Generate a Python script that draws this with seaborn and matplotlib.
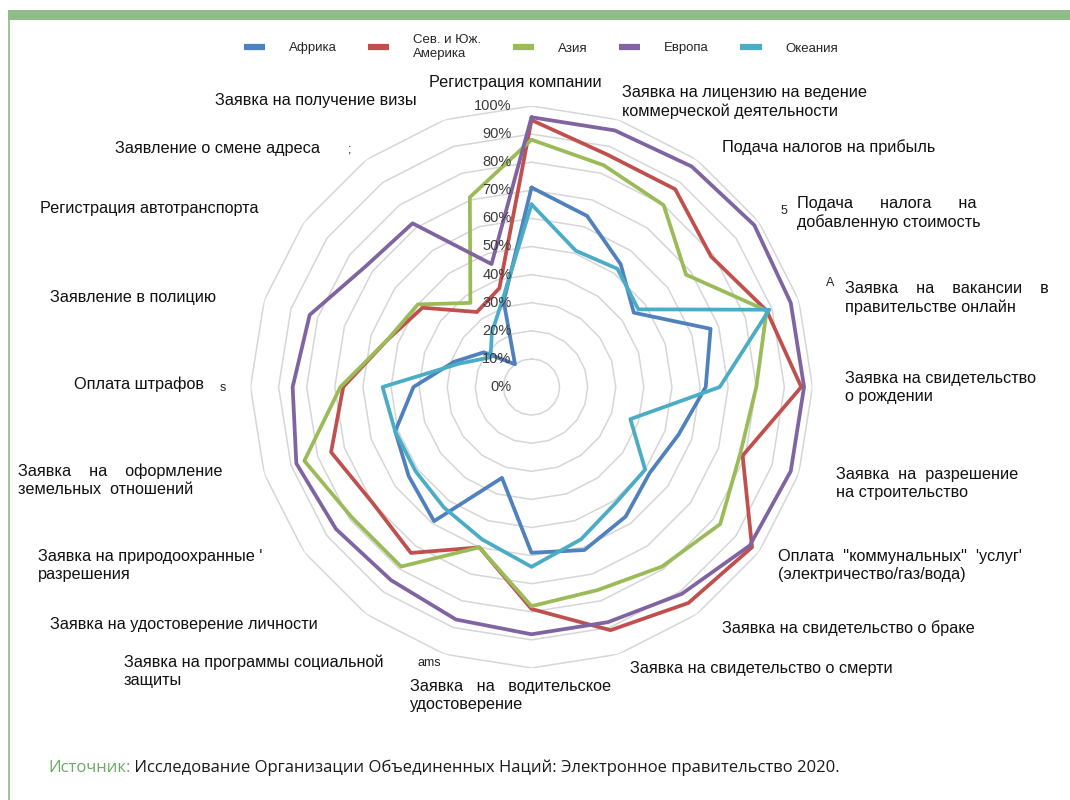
import numpy as np
import pandas as pd
import matplotlib
matplotlib.use("Agg")
import matplotlib.pyplot as plt
import seaborn as sns
from matplotlib.lines import Line2D
from matplotlib.patches import Rectangle
from matplotlib.transforms import offset_copy

# ---------------- data ----------------
categories = [
    "Регистрация компании",
    "Заявка на лицензию на ведение коммерческой деятельности",
    "Подача налогов на прибыль",
    "Подача налога на добавленную стоимость",
    "Заявка на вакансии в правительстве онлайн",
    "Заявка на свидетельство о рождении",
    "Заявка на разрешение на строительство",
    "Оплата коммунальных услуг (электричество/газ/вода)",
    "Заявка на свидетельство о браке",
    "Заявка на свидетельство о смерти",
    "Заявка на водительское удостоверение",
    "Заявка на программы социальной защиты",
    "Заявка на удостоверение личности",
    "Заявка на природоохранные разрешения",
    "Заявка на оформление земельных отношений",
    "Оплата штрафов",
    "Заявление в полицию",
    "Регистрация автотранспорта",
    "Заявление о смене адреса",
    "Заявка на получение визы",
]
regions = ["Африка", "Сев. и Юж.\nАмерика", "Азия", "Европа", "Океания"]
africa   = [71, 64, 54, 45, 67, 62, 55, 52, 57, 61, 59, 34, 59, 54, 51, 42, 29, 21, 10, 32]
americas = [95, 87, 87, 79, 88, 96, 79, 97, 95, 91, 79, 60, 73, 70, 75, 67, 54, 48, 33, 37]
asia     = [88, 83, 80, 68, 88, 80, 78, 83, 79, 76, 78, 60, 79, 79, 85, 68, 54, 50, 37, 71]
europe   = [96, 96, 97, 98, 97, 97, 97, 96, 91, 88, 88, 87, 85, 86, 88, 85, 83, 73, 72, 46]
oceania  = [65, 51, 52, 47, 89, 67, 37, 50, 51, 57, 64, 57, 53, 51, 51, 53, 27, 18, 24, 33]
r_ticks = [0, 10, 20, 30, 40, 50, 60, 70, 80, 90, 100]
source_label = "Источник:"
source_text = "Исследование Организации Объединенных Наций: Электронное правительство 2020."

colors = ["#4F81BD", "#C0504D", "#9BBB59", "#8064A2", "#4BACC6"]

# ---------------- figure ----------------
sns.set_theme(style="white")
plt.rcParams["font.family"] = ["Liberation Sans", "DejaVu Sans"]

W, H = 1070, 800
fig = plt.figure(figsize=(W / 100, H / 100), dpi=100)
fig.patch.set_facecolor("white")

def fx(x):
    return x / W

def fy(y):
    return 1 - y / H

# decoration frame
fig.add_artist(Rectangle((fx(8), fy(20)), 1 - fx(8), 10 / H, transform=fig.transFigure,
                         color="#8fbd88", lw=0))
fig.add_artist(Rectangle((fx(8), 0), 2 / W, fy(20), transform=fig.transFigure,
                         color="#9cc795", lw=0))

# polar axes centred at (531.5, 387) px, radius 281 px
cx, cy, R = 531.5, 387, 281
ax = fig.add_axes([fx(cx - R), fy(cy + R), 2 * R / W, 2 * R / H], projection="polar")
ax.set_theta_offset(np.pi / 2)
ax.set_theta_direction(-1)
ax.set_ylim(0, 100)
ax.grid(False)
ax.set_xticks([])
ax.set_yticks([])
ax.spines["polar"].set_visible(False)
ax.set_facecolor("none")

n = len(categories)
theta = np.linspace(0, 2 * np.pi, n, endpoint=False)
theta_c = np.append(theta, 2 * np.pi)

# polygonal web grid
for r in r_ticks[1:]:
    ax.plot(theta_c, [r] * (n + 1), color="#d6d6d6", lw=1.1, zorder=0)

series = [africa, americas, asia, europe, oceania]
rows = []
for reg, vals in zip(regions, series):
    vv = list(vals) + [vals[0]]
    for t, v in zip(theta_c, vv):
        rows.append({"theta": t, "value": v, "region": reg})
df = pd.DataFrame(rows)

sns.lineplot(data=df, x="theta", y="value", hue="region", hue_order=regions,
             palette=colors, sort=False, estimator=None, lw=2.7, legend=False, ax=ax)
ax.set_xlabel("")
ax.set_ylabel("")
ax.set_ylim(0, 100)
ax.set_xticks([])
ax.set_yticks([])

# radial labels
tr = offset_copy(ax.transData, fig=fig, x=-20, y=0, units="dots")
for r in r_ticks:
    ax.text(0, r, f"{r}%", transform=tr, ha="right", va="center",
            fontsize=10.5, color="#3a3a3a")

# category labels (pixel positions: left x, centre y)
lab_font = dict(fontsize=11.7, color="#111111", va="center", linespacing=1.25)
labels_pos = [
    ("Регистрация компании", 515, 82, "center"),
    ("Заявка на лицензию на ведение\nкоммерческой деятельности", 622, 102, "left"),
    ("Подача налогов на прибыль", 722, 147, "left"),
    ("Подача      налога      на\nдобавленную стоимость", 797, 213, "left"),
    ("Заявка    на    вакансии    в\nправительстве онлайн", 845, 298, "left"),
    ("Заявка на свидетельство\nо рождении", 845, 387, "left"),
    ("Заявка  на  разрешение\nна строительство", 836, 483, "left"),
    ("Оплата  ''коммунальных''  'услуг'\n(электричество/газ/вода)", 778, 565, "left"),
    ("Заявка на свидетельство о браке", 722, 628, "left"),
    ("Заявка на свидетельство о смерти", 630, 669, "left"),
    ("Заявка   на   водительское\nудостоверение", 410, 695, "left"),
    ("Заявка на программы социальной\nзащиты", 124, 671, "left"),
    ("Заявка на удостоверение личности", 50, 624, "left"),
    ("Заявка на природоохранные '\nразрешения", 38, 565, "left"),
    ("Заявка    на    оформление\nземельных  отношений", 18, 480, "left"),
    ("Оплата штрафов", 74, 384, "left"),
    ("Заявление в полицию", 50, 297, "left"),
    ("Регистрация автотранспорта", 40, 209, "left"),
    ("Заявление о смене адреса", 115, 149, "left"),
    ("Заявка на получение визы", 215, 101, "left"),
]
for txt, x, y, ha in labels_pos:
    fig.text(fx(x), fy(y), txt, ha=ha, **lab_font)

# stray remnants visible in the original
for txt, x, y in [("ams", 418, 663), ("s", 220, 388), (";", 348, 149), ("A", 826, 283), ("5", 781, 211)]:
    fig.text(fx(x), fy(y), txt, ha="left", va="center", fontsize=9, color="#222222")

# legend
handles = [Line2D([], [], color=c, lw=4.5, solid_capstyle="butt") for c in colors]
leg = fig.legend(handles, regions, loc="center", bbox_to_anchor=(fx(541), fy(47)), ncol=5,
                 frameon=False, fontsize=9.5, handlelength=1.6, handletextpad=1.8,
                 columnspacing=2.4)

# source line
t1 = fig.text(fx(48), fy(768), source_label, ha="left", va="center",
              fontsize=12, color="#6aaa64", family=["Open Sans", "DejaVu Sans"])
fig.canvas.draw()
ax.annotate(" " + source_text, xy=(1, 0.5), xycoords=t1, ha="left", va="center",
            fontsize=12, color="#1a1a1a", family=["Open Sans", "DejaVu Sans"],
            annotation_clip=False)

fig.savefig("out.png", dpi=100)
